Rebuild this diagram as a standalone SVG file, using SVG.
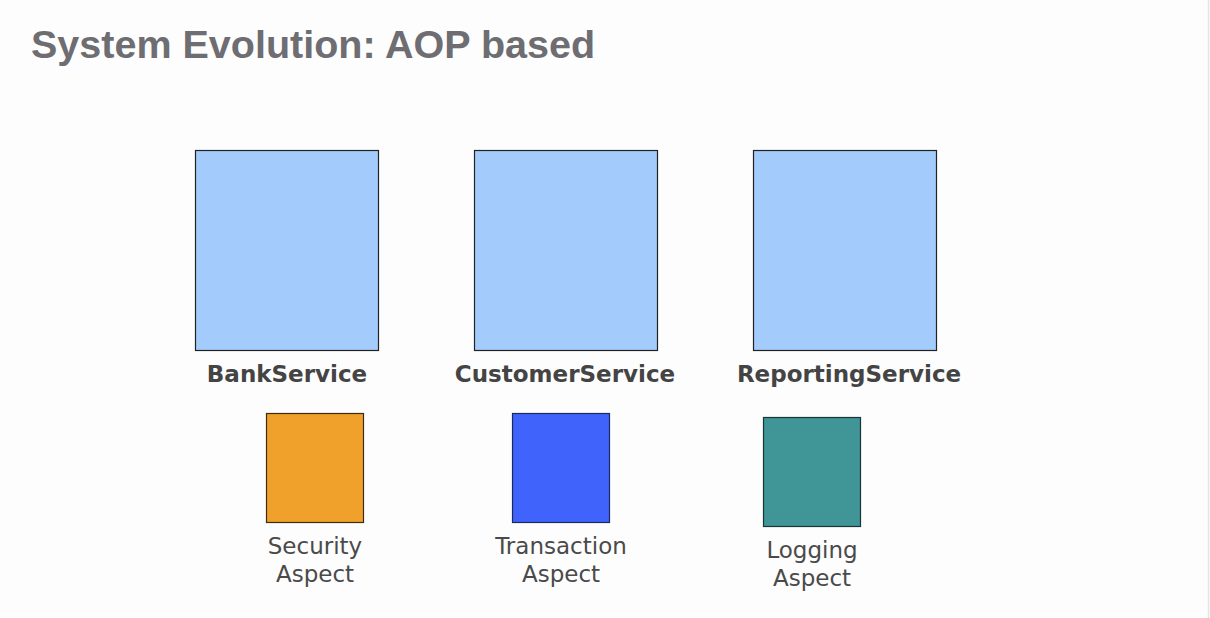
<svg xmlns="http://www.w3.org/2000/svg" width="1210" height="618" viewBox="0 0 1210 618">
<style>
.title{font-family:"Liberation Sans",Arial,sans-serif;font-weight:bold;font-size:39.5px;fill:#6d6d72}
.svc{fill:#a3cbfc;stroke:#222;stroke-width:1.2}
.svcl{font-family:"DejaVu Sans",Verdana,sans-serif;font-weight:bold;font-size:23px;fill:#444;text-anchor:middle}
.asl{font-family:"DejaVu Sans",Verdana,sans-serif;font-size:23px;fill:#4a4a4a;text-anchor:middle}
</style>
<rect width="1210" height="618" fill="#fdfdfd"/>
<line x1="1208.5" y1="0" x2="1208.5" y2="618" stroke="#e4e4e4" stroke-width="1.5"/>
<text class="title" x="31" y="58">System Evolution: AOP based</text>
<g id="connectors"></g>
<g id="bank">
<rect class="svc" x="195.5" y="150.5" width="183" height="200"/>
<text class="svcl" x="287" y="382">BankService</text>
</g>
<g id="customer">
<rect class="svc" x="474.5" y="150.5" width="183" height="200"/>
<text class="svcl" x="565" y="382">CustomerService</text>
</g>
<g id="reporting">
<rect class="svc" x="753.5" y="150.5" width="183" height="200"/>
<text class="svcl" x="849" y="382">ReportingService</text>
</g>
<g id="security">
<rect x="266.5" y="413.5" width="97" height="109" fill="#f0a12c" stroke="#3d2b13" stroke-width="1.2"/>
<text class="asl" x="315" y="554">Security</text>
<text class="asl" x="315" y="582">Aspect</text>
</g>
<g id="transaction">
<rect x="512.5" y="413.5" width="97" height="109" fill="#4064fb" stroke="#1a2a60" stroke-width="1.2"/>
<text class="asl" x="561" y="554">Transaction</text>
<text class="asl" x="561" y="582">Aspect</text>
</g>
<g id="logging">
<rect x="763.5" y="417.5" width="97" height="109" fill="#409597" stroke="#1a3535" stroke-width="1.2"/>
<text class="asl" x="812" y="558">Logging</text>
<text class="asl" x="812" y="586">Aspect</text>
</g>
</svg>
